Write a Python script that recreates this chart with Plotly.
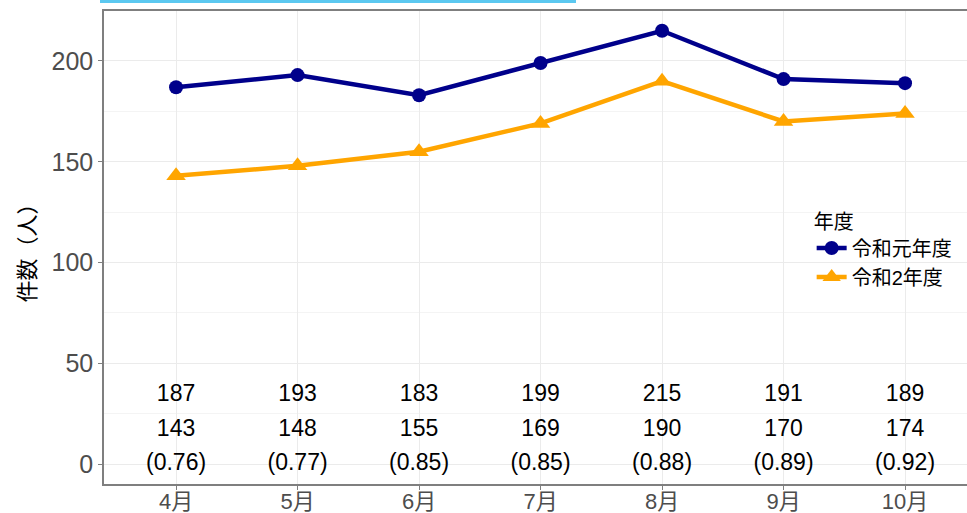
import plotly.graph_objects as go

months = ["4月", "5月", "6月", "7月", "8月", "9月", "10月"]
r1 = [187, 193, 183, 199, 215, 191, 189]
r2 = [143, 148, 155, 169, 190, 170, 174]
ratio = [0.76, 0.77, 0.85, 0.85, 0.88, 0.89, 0.92]
y_ticks = [0, 50, 100, 150, 200]

FONT = "Liberation Sans, Arial, Noto Sans CJK JP, sans-serif"
x = list(range(len(months)))

fig = go.Figure()
fig.add_trace(go.Scatter(
    x=x, y=r1, mode="lines+markers", name="令和元年度",
    line=dict(color="#00008B", width=4.5),
    marker=dict(symbol="circle", size=14, color="#00008B"),
))
fig.add_trace(go.Scatter(
    x=x, y=r2, mode="lines+markers", name="令和2年度",
    line=dict(color="#FFA500", width=4.5),
    marker=dict(symbol="triangle-up", size=17, color="#FFA500"),
))

rows = [
    ([str(v) for v in r1], 34),
    ([str(v) for v in r2], 17),
    (["(%.2f)" % v for v in ratio], 0),
]
for texts, yv in rows:
    fig.add_trace(go.Scatter(
        x=x, y=[yv] * len(x), mode="text", text=texts, showlegend=False,
        textfont=dict(size=23, color="black", family=FONT), hoverinfo="skip",
    ))

fig.update_layout(
    width=967, height=513,
    margin=dict(l=104, r=0, t=11, b=29, autoexpand=False),
    paper_bgcolor="white", plot_bgcolor="white",
    font=dict(family=FONT),
    showlegend=True,
    legend=dict(
        title=dict(text="年度", font=dict(size=20, color="black")),
        font=dict(size=20, color="black"),
        x=0.82, y=0.595, xanchor="left", yanchor="top",
        bgcolor="rgba(255,255,255,0)", tracegroupgap=0, itemwidth=30,
    ),
    shapes=[dict(type="rect", xref="paper", yref="paper",
                 x0=(100 - 104) / 863, x1=(576 - 104) / 863,
                 y0=(484 - 3) / 473, y1=(484 + 1) / 473,
                 fillcolor="#5bc8f0", line=dict(width=0))],
)
fig.update_xaxes(
    range=[-0.593, 6.51], tickvals=x, ticktext=months, automargin=False,
    tickfont=dict(size=22, color="#4d4d4d"), ticklabelstandoff=-7,
    showgrid=True, gridcolor="#ebebeb", gridwidth=1,
    showline=True, linecolor="#7f7f7f", linewidth=1.5, mirror=True,
    ticks="outside", ticklen=4, tickcolor="#7f7f7f", zeroline=False,
)
fig.update_yaxes(
    range=[-9.9, 224.8], tickvals=y_ticks, automargin=False,
    tickfont=dict(size=25, color="#4d4d4d"),
    title=dict(text="件数（人）", font=dict(size=22, color="black"), standoff=10),
    showgrid=True, gridcolor="#ebebeb", gridwidth=1,
    minor=dict(dtick=25, tick0=25, showgrid=True, gridcolor="#f4f4f4", ticks=""),
    showline=True, linecolor="#7f7f7f", linewidth=1.5, mirror=True,
    ticks="outside", ticklen=4, tickcolor="#7f7f7f", zeroline=False,
)

fig.write_html("out.html", config={"displayModeBar": False},
               post_script="document.body.style.margin='0';document.body.style.overflow='hidden';")
